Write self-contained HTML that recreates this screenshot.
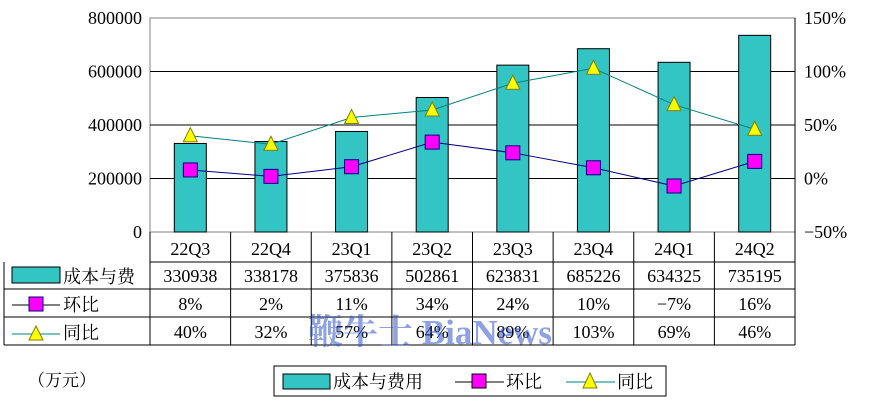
<!DOCTYPE html>
<html><head><meta charset="utf-8"><style>
body{margin:0;background:#fff;}
svg text{font-family:"Liberation Serif","Noto Serif CJK SC","Noto Sans CJK SC",serif;fill:#000;}
</style></head><body>
<svg width="876" height="415" xmlns="http://www.w3.org/2000/svg">
<g id="grid"></g><g id="bars"></g><g id="lines"></g><g id="table"></g>
<text x="28" y="386" font-size="17">（万元）</text>
<g>
<rect x="274" y="366" width="392" height="30" fill="#fff" stroke="#000"/>
<rect x="283" y="374" width="47" height="15" fill="#33C4C4" stroke="#000"/>
<text x="333" y="388" font-size="18">成本与费用</text>
<line x1="455" y1="382" x2="504" y2="382" stroke="#000"/>
<rect x="472" y="374" width="14" height="14" fill="#FF00FF" stroke="#000"/>
<text x="506" y="388" font-size="18">环比</text>
<line x1="566" y1="382" x2="615" y2="382" stroke="#008080"/>
<polygon points="590,373 597,388 583,388" fill="#FFFF00" stroke="#808000"/>
<text x="617" y="388" font-size="18">同比</text>
</g>
<text x="308" y="344" font-size="35" font-weight="bold" style="fill:#3355cc" opacity="0.55">鞭牛士 BiaNews</text>
</svg>
<script>
const categories=["22Q3","22Q4","23Q1","23Q2","23Q3","23Q4","24Q1","24Q2"];
const costs=[330938,338178,375836,502861,623831,685226,634325,735195];
const qoq=[8,2,11,34,24,10,-7,16];
const yoy=[40,32,57,64,89,103,69,46];
const leftTicks=[0,200000,400000,600000,800000];
const rightTicks=[-50,0,50,100,150];
const NS="http://www.w3.org/2000/svg";
const L=150,R=795,T=18,B=232,bw=(R-L)/categories.length;
const yL=v=>B-(v/800000)*(B-T);
const yR=v=>B-((v+50)/200)*(B-T);
const xC=i=>L+bw*(i+0.5);
function mk(tag,attrs,parent,txt){const e=document.createElementNS(NS,tag);for(const k in attrs)e.setAttribute(k,attrs[k]);if(txt!==undefined)e.textContent=txt;document.getElementById(parent).appendChild(e);return e;}
mk("rect",{x:L,y:T,width:R-L,height:B-T,fill:"#fff",stroke:"#808080"},"grid");
leftTicks.forEach(v=>{
 if(v>0&&v<800000){const g=mk("line",{x1:L,x2:R,y1:yL(v),y2:yL(v),stroke:"#000"},"grid");
 
 }
 const t=mk("text",{x:L-8,y:yL(v)+6,"font-size":18,"text-anchor":"end"},"grid",String(v));
 
 
});
mk("line",{x1:R,x2:R,y1:T,y2:B,stroke:"#000"},"grid");
rightTicks.forEach(v=>{
 const t=mk("text",{x:R+9,y:yR(v)+6,"font-size":18},"grid",(v<0?"−"+(-v):v)+"%");
 
 
});
costs.forEach((v,i)=>{
 const r=mk("rect",{x:xC(i)-16,y:yL(v),width:32,height:B-yL(v),fill:"#33C4C4",stroke:"#000"},"bars");
 
 
});
mk("polyline",{points:yoy.map((v,i)=>xC(i)+","+yR(v)).join(" "),fill:"none",stroke:"#008080"},"lines");
mk("polyline",{points:qoq.map((v,i)=>xC(i)+","+yR(v)).join(" "),fill:"none",stroke:"#000080"},"lines");
qoq.forEach((v,i)=>{
 const m=mk("rect",{x:xC(i)-7,y:yR(v)-7,width:14,height:14,fill:"#FF00FF",stroke:"#000080"},"lines");
 
 
});
yoy.forEach((v,i)=>{
 const x=xC(i),y=yR(v);
 const m=mk("polygon",{points:`${x},${y-8} ${x+7},${y+6} ${x-7},${y+6}`,fill:"#FFFF00",stroke:"#808000"},"lines");
 
 
});
const rows=[[232,262],[262,289],[289,317],[317,345]];
mk("line",{x1:L,x2:R,y1:262,y2:262,stroke:"#000"},"table");
mk("line",{x1:4,x2:R,y1:289,y2:289,stroke:"#000"},"table");
mk("line",{x1:4,x2:R,y1:317,y2:317,stroke:"#000"},"table");
mk("line",{x1:4,x2:R,y1:345,y2:345,stroke:"#000"},"table");
mk("line",{x1:4,x2:4,y1:262,y2:345,stroke:"#000"},"table");
for(let i=0;i<=categories.length;i++)mk("line",{x1:L+bw*i,x2:L+bw*i,y1:232,y2:345,stroke:"#000"},"table");
const rowVals=[categories,costs.map(String),qoq.map(v=>v+"%"),yoy.map(v=>v+"%")];
const rowNames=['category-label','cost-value','qoq-value','yoy-value'];
rowVals.forEach((arr,r)=>arr.forEach((s,i)=>{
 const t=mk("text",{x:xC(i),y:rows[r][1]-7,"font-size":18,"text-anchor":"middle"},"table",s.replace("-","−"));
 
 
}));
mk("rect",{x:12,y:267,width:48,height:16,fill:"#33C4C4",stroke:"#000"},"table");
mk("text",{x:63,y:283,"font-size":18},"table","成本与费");
mk("line",{x1:12,x2:60,y1:305,y2:305,stroke:"#000"},"table");
mk("rect",{x:29,y:297,width:14,height:14,fill:"#FF00FF",stroke:"#000080"},"table");
mk("text",{x:63,y:311,"font-size":18},"table","环比");
mk("line",{x1:12,x2:60,y1:334,y2:334,stroke:"#008080"},"table");
mk("polygon",{points:"36,326 43,340 29,340",fill:"#FFFF00",stroke:"#808000"},"table");
mk("text",{x:63,y:339,"font-size":18},"table","同比");
</script>
</body></html>
